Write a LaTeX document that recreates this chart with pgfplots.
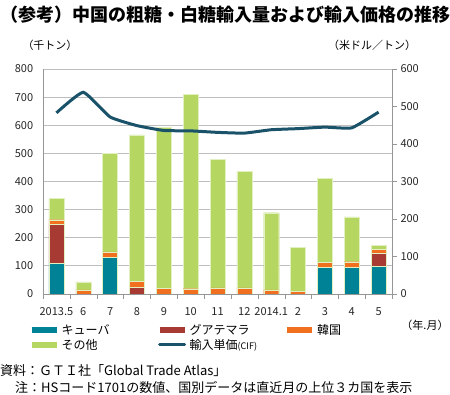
\documentclass[border=0pt]{standalone}
\usepackage{fontspec}
\setmainfont{Noto Sans CJK JP}
\usepackage{pgfplots}
\pgfplotsset{compat=1.18}
\definecolor{cuba}{RGB}{0,130,150}
\definecolor{guat}{RGB}{168,58,52}
\definecolor{korea}{RGB}{240,112,32}
\definecolor{other}{RGB}{182,214,98}
\definecolor{price}{RGB}{26,82,106}
\definecolor{gridc}{RGB}{190,190,190}
\definecolor{axc}{RGB}{150,150,150}
\begin{document}
\begin{tikzpicture}
\path[use as bounding box] (0pt,0pt) rectangle (450pt,395pt);
\begin{axis}[
  at={(43pt,101pt)}, anchor=south west,
  scale only axis, width=349pt, height=225pt,
  xmin=-0.5, xmax=12.5, ymin=0, ymax=800,
  ybar stacked, bar width=15pt,
  ytick={0,100,...,800},
  ymajorgrids, grid style={gridc, line width=0.8pt},
  major y tick style={draw=none},
  xtick={0,...,12},
  xticklabels={2013.5,6,7,8,9,10,11,12,2014.1,2,3,4,5},
  minor xtick={-0.5,0.5,...,12.5},
  major x tick style={draw=none},
  minor x tick style={axc},
  tick align=outside, minor tick length=5pt,
  axis x line*=bottom, axis y line*=left,
  axis line style={axc, line width=0.8pt},
  /pgf/number format/assume math mode=true,
  ticklabel style={font=\fontsize{11}{12}\selectfont, text=black!85},
  yticklabel style={xshift=-2pt},
  xticklabel style={yshift=-6pt},
  every axis plot/.append style={draw=white!60!other, line width=0.3pt},
]
\addplot[fill=cuba] coordinates {(0,110) (1,0) (2,131) (3,0) (4,0) (5,0) (6,0) (7,0) (8,0) (9,0) (10,95) (11,95) (12,98)};
\addplot[fill=guat] coordinates {(0,138) (1,0) (2,0) (3,24) (4,0) (5,0) (6,0) (7,0) (8,0) (9,0) (10,0) (11,0) (12,47)};
\addplot[fill=korea] coordinates {(0,16) (1,15) (2,19) (3,21) (4,21) (5,19) (6,22) (7,22) (8,15) (9,9) (10,18) (11,20) (12,14)};
\addplot[fill=other] coordinates {(0,75) (1,28) (2,351) (3,521) (4,572) (5,692) (6,456) (7,413) (8,274) (9,156) (10,299) (11,159) (12,14)};
\end{axis}
\begin{axis}[
  at={(43pt,101pt)}, anchor=south west,
  scale only axis, width=349pt, height=225pt,
  xmin=-0.5, xmax=12.5, ymin=0, ymax=600,
  ytick={0,100,...,600},
  axis y line*=right, axis x line=none,
  axis line style={axc, line width=0.8pt},
  y tick style={axc}, tick align=outside, major tick length=5pt,
  /pgf/number format/assume math mode=true,
  ticklabel style={font=\fontsize{11}{12}\selectfont, text=black!85},
  legend columns=3,
  legend cell align=left,
  legend style={draw=none, fill=none, at={(-0.05,-0.117)}, anchor=north west,
    font=\fontsize{12}{13}\selectfont, row sep=-1pt,
    /tikz/column 2/.style={column sep=45pt},
    /tikz/column 4/.style={column sep=25pt}},
]
\addlegendimage{legend image code/.code={\draw[cuba, line width=6pt] (0pt,0pt) -- (25pt,0pt);}}
\addlegendentry{キューバ}
\addlegendimage{legend image code/.code={\draw[guat, line width=6pt] (0pt,0pt) -- (25pt,0pt);}}
\addlegendentry{グアテマラ}
\addlegendimage{legend image code/.code={\draw[korea, line width=6pt] (0pt,0pt) -- (25pt,0pt);}}
\addlegendentry{韓国}
\addlegendimage{legend image code/.code={\draw[other, line width=6pt] (0pt,0pt) -- (25pt,0pt);}}
\addlegendentry{その他}
\addplot[price, line width=3pt, smooth, tension=0.25, mark=none,
  legend image code/.code={\draw[price, line width=3pt, line cap=round] (0pt,0pt) -- (25pt,0pt);}]
  coordinates {(0,483) (1,538) (2,472) (3,449) (4,436) (5,435) (6,431) (7,429) (8,438) (9,441) (10,445) (11,443) (12,485)};
\addlegendentry{輸入単価{\fontsize{9}{10}\selectfont (CIF)}}
\end{axis}
\node[anchor=west, font=\fontsize{18}{20}\selectfont\bfseries, inner sep=0pt] at (0pt,380pt) {（参考）中国の粗糖・白糖輸入量および輸入価格の推移};
\node[font=\fontsize{11}{12}\selectfont, inner sep=0pt] at (50pt,350pt) {（千トン）};
\node[font=\fontsize{11}{12}\selectfont, inner sep=0pt] at (372pt,350pt) {（米ドル／トン）};
\node[font=\fontsize{11}{12}\selectfont, inner sep=0pt] at (425pt,70pt) {（年.月）};
\node[anchor=west, font=\fontsize{13}{14}\selectfont, inner sep=0pt] at (0pt,24pt) {資料：ＧＴＩ社「Global Trade Atlas」};
\node[anchor=west, font=\fontsize{13}{14}\selectfont, inner sep=0pt] at (15pt,7pt) {注：HSコード1701の数値、国別データは直近月の上位３カ国を表示};
\end{tikzpicture}
\end{document}
